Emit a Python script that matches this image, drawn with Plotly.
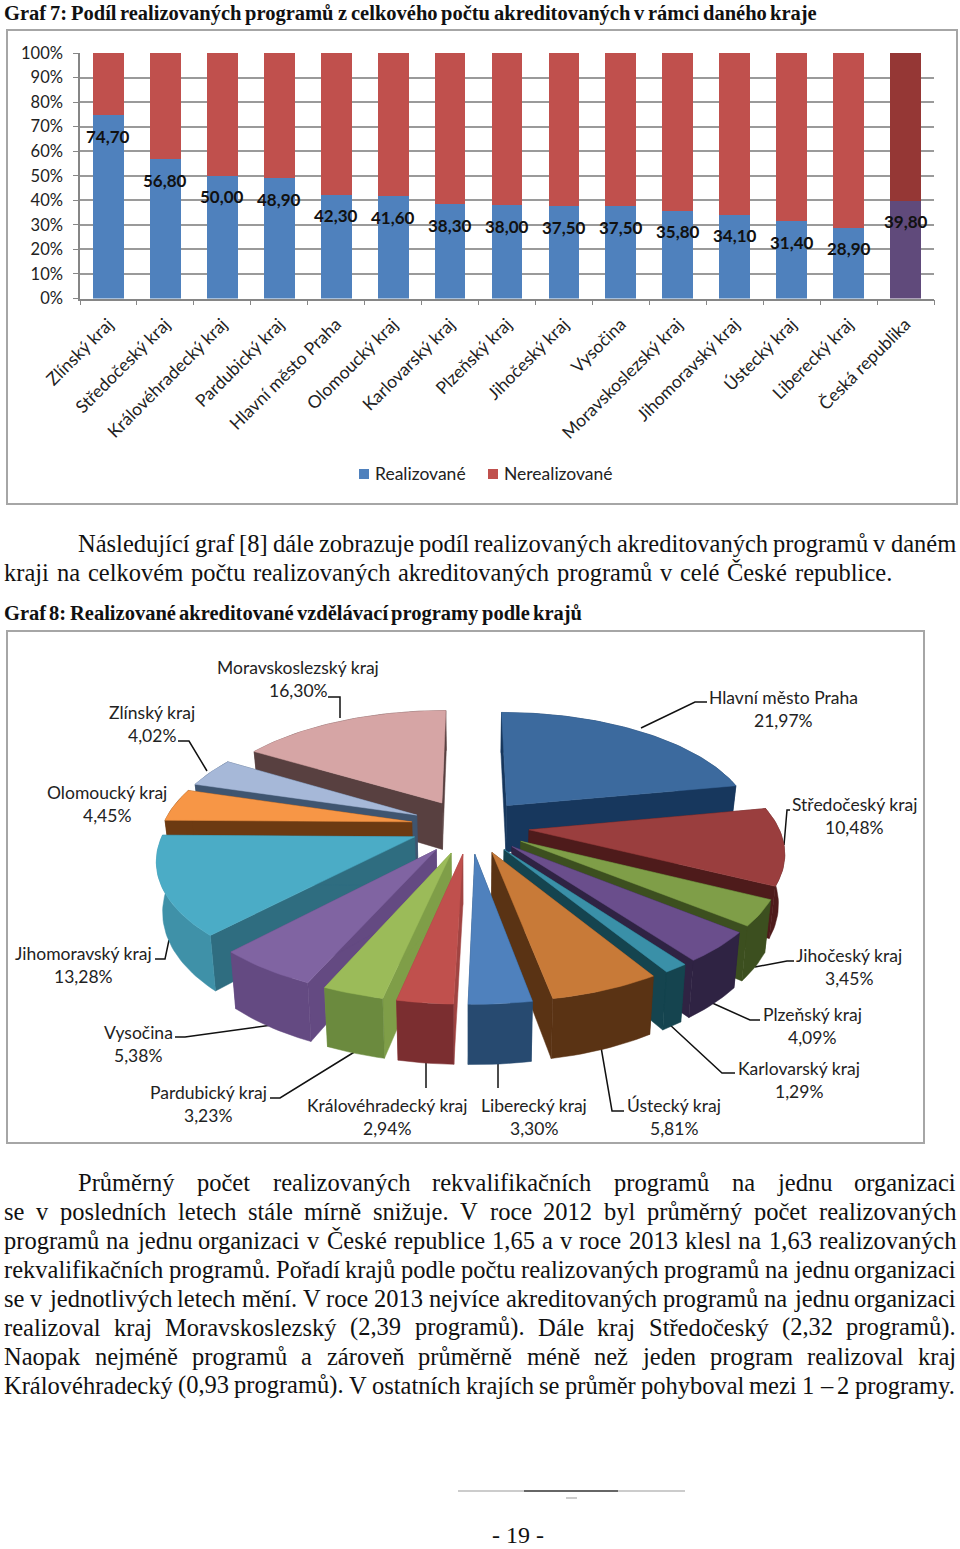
import math
import unicodedata
import plotly.graph_objects as go

# ---------- data ----------
bar_categories = ["Zlínský kraj", "Středočeský kraj", "Královéhradecký kraj", "Pardubický kraj",
                  "Hlavní město Praha", "Olomoucký kraj", "Karlovarský kraj", "Plzeňský kraj",
                  "Jihočeský kraj", "Vysočina", "Moravskoslezský kraj", "Jihomoravský kraj",
                  "Ústecký kraj", "Liberecký kraj", "Česká republika"]
realized = [74.7, 56.8, 50.0, 48.9, 42.3, 41.6, 38.3, 38.0, 37.5, 37.5, 35.8, 34.1, 31.4, 28.9, 39.8]
not_realized = [25.3, 43.2, 50.0, 51.1, 57.7, 58.4, 61.7, 62.0, 62.5, 62.5, 64.2, 65.9, 68.6, 71.1, 60.2]
realized_labels = ["74,70", "56,80", "50,00", "48,90", "42,30", "41,60", "38,30", "38,00",
                   "37,50", "37,50", "35,80", "34,10", "31,40", "28,90", "39,80"]
y_ticks = [0, 10, 20, 30, 40, 50, 60, 70, 80, 90, 100]

pie_regions = ["Hlavní město Praha", "Středočeský kraj", "Jihočeský kraj", "Plzeňský kraj",
               "Karlovarský kraj", "Ústecký kraj", "Liberecký kraj", "Královéhradecký kraj",
               "Pardubický kraj", "Vysočina", "Jihomoravský kraj", "Olomoucký kraj",
               "Zlínský kraj", "Moravskoslezský kraj"]
pie_values = [21.97, 10.48, 3.45, 4.09, 1.29, 5.81, 3.30, 2.94, 3.23, 5.38, 13.28, 4.45, 4.02, 16.30]
pie_value_text = ["21,97%", "10,48%", "3,45%", "4,09%", "1,29%", "5,81%", "3,30%", "2,94%",
                  "3,23%", "5,38%", "13,28%", "4,45%", "4,02%", "16,30%"]

# ---------- styles ----------
top_colors = ["#3C6A9E", "#9A3E3E", "#7F9E48", "#6A4E8C", "#3A90A8", "#C87A38", "#4F81BD",
              "#C0504D", "#9BBB59", "#8064A2", "#4BACC6", "#F79646", "#A6B8D8", "#D6A5A5"]
radial_colors = ["#17375D", "#4E1B1B", "#3C4F1F", "#2F2343", "#15444F", "#5A3314", "#274A70",
                 "#A04442", "#7F9E48", "#644A82", "#2F6D80", "#6C3A12", "#3F5570", "#584040"]
wall_colors = ["#17375D", "#4E1B1B", "#3C4F1F", "#2F2343", "#15444F", "#5A3314", "#274A70",
               "#7B2E30", "#6B8A3E", "#644A82", "#3F91A8", "#6C3A12", "#3F5570", "#584040"]
label_pos = [(783, 697), (854, 804), (849, 955), (812, 1014), (799, 1068), (674, 1105), (534, 1105),
             (387, 1105), (208, 1092), (138, 1032), (83, 953), (107, 792), (152, 712), (298, 667)]
leaders = [
    [(707, 702), (695, 702), (641, 728)],
    [(790, 810), (787, 810), (784, 845)],
    [(794, 961), (787, 961), (755, 967)],
    [(760, 1020), (750, 1020), (710, 1002)],
    [(735, 1073), (722, 1073), (669, 1024)],
    [(624, 1111), (612, 1111), (601, 1047)],
    [(498, 1060), (498, 1088)],
    [(426, 1060), (426, 1088)],
    [(270, 1098), (280, 1098), (356, 1051)],
    [(175, 1037), (185, 1037), (272, 1025)],
    [(155, 959), (165, 959), (169, 940)],
    [(178, 741), (189, 741), (207, 771)],
    [(328, 697), (340, 697), (340, 718)],
]

SANS = "Lato"
SERIF = "Liberation Serif"
BLUE, RED, BLUE_T, RED_T = "#4F81BD", "#C0504D", "#604A7B", "#953735"

fig = go.Figure()

# ---------- Graf 7 ----------
n = len(bar_categories)
fig.add_trace(go.Bar(x=bar_categories, y=realized, name="Realizované",
                     marker=dict(color=[BLUE] * (n - 1) + [BLUE_T], line_width=0),
                     hoverinfo="skip", showlegend=False))
fig.add_trace(go.Bar(x=bar_categories, y=not_realized, name="Nerealizované",
                     marker=dict(color=[RED] * (n - 1) + [RED_T], line_width=0),
                     hoverinfo="skip", showlegend=False))

annotations = []
for c, v, t in zip(bar_categories, realized, realized_labels):
    annotations.append(dict(x=c, y=v, xref="x", yref="y", yshift=-21, text=t, showarrow=False,
                            font=dict(family=SANS, size=17, color="#111111", weight="bold")))


def px_text(x, y, text, family=SANS, size=17.5, color="#222222", anchor="center", weight=None):
    annotations.append(dict(x=x, y=y, xref="x2", yref="y2", text=text, showarrow=False,
                            xanchor=anchor, yanchor="middle", borderpad=0,
                            font=dict(family=family, size=size, color=color,
                                      **({"weight": weight} if weight else {}))))


# ---------- Graf 8: perspective exploded pie ----------
CX, YV, H, A, K, E, D, SHRINK = 470.0, 131.0, 695.0, 249.0, 0.165, 0.238, 48.0, 0.98


def project(theta, r, mid):
    u = r * math.sin(theta) + E * math.sin(mid)
    v = -r * math.cos(theta) - E * math.cos(mid)
    w = 1 - K * v
    x = CX + A * u / w
    y = YV + H / w
    return (x, y), (CX + (x - CX) * SHRINK, y + D / w)


def polygon(points, color):
    xs = [p[0] for p in points] + [points[0][0]]
    ys = [p[1] for p in points] + [points[0][1]]
    fig.add_trace(go.Scatter(x=xs, y=ys, xaxis="x2", yaxis="y2", mode="lines", fill="toself",
                             fillcolor=color, line=dict(color=color, width=0.5),
                             hoverinfo="skip", showlegend=False))


for seg in leaders:
    fig.add_trace(go.Scatter(x=[p[0] for p in seg], y=[p[1] for p in seg], xaxis="x2", yaxis="y2",
                             mode="lines", line=dict(color="#111111", width=1.5),
                             hoverinfo="skip", showlegend=False))

total = sum(pie_values)
slices = []
acc = 0.0
for i, val in enumerate(pie_values):
    a0 = acc / total * 2 * math.pi
    acc += val
    a1 = acc / total * 2 * math.pi
    slices.append((i, a0, a1, (a0 + a1) / 2))

for i, a0, a1, mid in sorted(slices, key=lambda s: -math.cos(s[3])):
    steps = max(6, int((a1 - a0) * 40))
    thetas = [a0 + (a1 - a0) * k / steps for k in range(steps + 1)]
    tops = [project(t, 1, mid)[0] for t in thetas]
    bots = [project(t, 1, mid)[1] for t in thetas]
    apex_t, apex_b = project(0, 0, mid)
    wall = tops + bots[::-1]
    faces = [([apex_t, tops[0], bots[0], apex_b], radial_colors[i]),
             ([apex_t, tops[-1], bots[-1], apex_b], radial_colors[i])]
    if math.cos(mid) > 0:      # back half: the rim wall is behind the cut faces
        polygon(wall, wall_colors[i])
        for pts, col in faces:
            polygon(pts, col)
    else:                      # front half: the rim wall hides the cut faces
        for pts, col in faces:
            polygon(pts, col)
        polygon(wall, wall_colors[i])
    polygon([apex_t] + tops, top_colors[i])

for name, txt, (lx, ly) in zip(pie_regions, pie_value_text, label_pos):
    px_text(lx, ly, name)
    px_text(lx, ly + 23, txt)

# ---------- page text ----------
TIMES = dict(zip("abcdefghijklmnopqrstuvwxyz",
                 [444, 500, 444, 500, 444, 333, 500, 500, 278, 278, 500, 278, 778, 500, 500, 500, 500, 333,
                  389, 278, 500, 500, 722, 500, 500, 444]))
TIMES.update(zip("ABCDEFGHIJKLMNOPQRSTUVWXYZ",
                 [722, 667, 667, 722, 611, 556, 722, 722, 333, 389, 722, 611, 889, 722, 722, 556, 722, 667,
                  556, 611, 722, 722, 944, 722, 722, 611]))
TIMES.update({",": 250, ".": 250, "(": 333, ")": 333, "[": 333, "]": 333, ":": 278, "–": 500, "-": 333})
BOLD = dict(TIMES)
BOLD.update(zip("abcdefghijklmnopqrstuvwxyz",
                [500, 556, 444, 556, 444, 333, 500, 556, 278, 333, 556, 278, 833, 556, 500, 556, 556, 444,
                 389, 333, 556, 500, 722, 500, 500, 444]))
BOLD.update({"G": 778, "P": 611, "R": 722, ":": 333})


def width(word, size, table):
    total_w = 0
    for ch in word:
        base = unicodedata.normalize("NFD", ch)[0]
        total_w += table.get(base, 500)
    return total_w * size / 1000


def text_line(line, x0, x1, y, size, bold=False):
    words = line.split(" ")
    table = BOLD if bold else TIMES
    widths = [width(w, size, table) for w in words]
    gap = (x1 - x0 - sum(widths)) / (len(words) - 1)
    x = x0
    for w, wd in zip(words, widths):
        px_text(x, y, w, family=SERIF, size=size, color="#111111", anchor="left",
                weight="bold" if bold else None)
        x += wd + gap


BODY = 24.5
text_line("Graf 7: Podíl realizovaných programů z celkového počtu akreditovaných v rámci daného kraje",
          3, 816, 13, 20.5, bold=True)
text_line("Následující graf [8] dále zobrazuje podíl realizovaných akreditovaných programů v daném", 77, 955, 543, BODY)
text_line("kraji na celkovém počtu realizovaných akreditovaných programů v celé České republice.", 3, 891, 572, BODY)
text_line("Graf 8: Realizované akreditované vzdělávací programy podle krajů", 3, 581, 613, 20.5, bold=True)
para = [
    ("Průměrný počet realizovaných rekvalifikačních programů na jednu organizaci", 77, 1182),
    ("se v posledních letech stále mírně snižuje. V roce 2012 byl průměrný počet realizovaných", 3, 1211),
    ("programů na jednu organizaci v České republice 1,65 a v roce 2013 klesl na 1,63 realizovaných", 3, 1240),
    ("rekvalifikačních programů. Pořadí krajů podle počtu realizovaných programů na jednu organizaci", 3, 1269),
    ("se v jednotlivých letech mění. V roce 2013 nejvíce akreditovaných programů na jednu organizaci", 3, 1298),
    ("realizoval kraj Moravskoslezský (2,39 programů). Dále kraj Středočeský (2,32 programů).", 3, 1327),
    ("Naopak nejméně programů a zároveň průměrně méně než jeden program realizoval kraj", 3, 1356),
    ("Královéhradecký (0,93 programů). V ostatních krajích se průměr pohyboval mezi 1 – 2 programy.", 3, 1385),
]
for line, x0, y in para:
    text_line(line, x0, 955, y, BODY)
px_text(518, 1535, "- 19 -", family=SERIF, size=24, color="#111111")

# legend
px_text(374, 473, "Realizované", anchor="left")
px_text(503, 473, "Nerealizované", anchor="left")

shapes = [
    dict(type="rect", xref="x2", yref="y2", x0=7, x1=957, y0=30, y1=504, line=dict(color="#A6A6A6", width=2), layer="below"),
    dict(type="rect", xref="x2", yref="y2", x0=7, x1=924, y0=631, y1=1143, line=dict(color="#A6A6A6", width=2), layer="below"),
    dict(type="rect", xref="x2", yref="y2", x0=359, x1=369, y0=469, y1=479, fillcolor=BLUE, line_width=0),
    dict(type="rect", xref="x2", yref="y2", x0=488, x1=498, y0=469, y1=479, fillcolor=RED, line_width=0),
    dict(type="line", xref="x2", yref="y2", x0=458, x1=685, y0=1491, y1=1491, line=dict(color="#999999", width=1)),
    dict(type="line", xref="x2", yref="y2", x0=524, x1=618, y0=1491, y1=1491, line=dict(color="#666666", width=2)),
    dict(type="line", xref="x2", yref="y2", x0=566, x1=577, y0=1498, y1=1498, line=dict(color="#999999", width=1)),
]

fig.update_layout(
    width=960, height=1549, autosize=False, margin=dict(l=0, r=0, t=0, b=0),
    paper_bgcolor="white", plot_bgcolor="rgba(0,0,0,0)", barmode="stack", bargap=0.46,
    showlegend=False, annotations=annotations, shapes=shapes, hovermode=False,
    xaxis=dict(domain=[80 / 960, 934 / 960], anchor="y", type="category", tickson="boundaries", automargin=False,
               ticks="outside", ticklen=5, tickcolor="#868686", linecolor="#868686", linewidth=1.5,
               ticklabelstandoff=7, tickangle=-45, tickfont=dict(family=SANS, size=17.5, color="#222222"),
               showgrid=False, fixedrange=True),
    yaxis=dict(domain=[1 - 298.5 / 1549, 1 - 53 / 1549], anchor="x", range=[0, 100], tickvals=y_ticks, automargin=False,
               ticktext=[f"{t}%" for t in y_ticks], ticks="outside", ticklen=5, tickcolor="#868686",
               ticklabelstandoff=7, linecolor="#868686", linewidth=1.5, gridcolor="#9A9A9A", gridwidth=1.5,
               zeroline=False, tickfont=dict(family=SANS, size=16.5, color="#222222"), fixedrange=True),
    xaxis2=dict(domain=[0, 1], anchor="y2", range=[0, 960], visible=False, fixedrange=True, automargin=False),
    yaxis2=dict(domain=[0, 1], anchor="x2", range=[1549, 0], visible=False, fixedrange=True, automargin=False),
)

fig.write_html("out.html", config=dict(displayModeBar=False),
               post_script="document.body.style.margin='0';document.body.style.overflow='hidden';")
